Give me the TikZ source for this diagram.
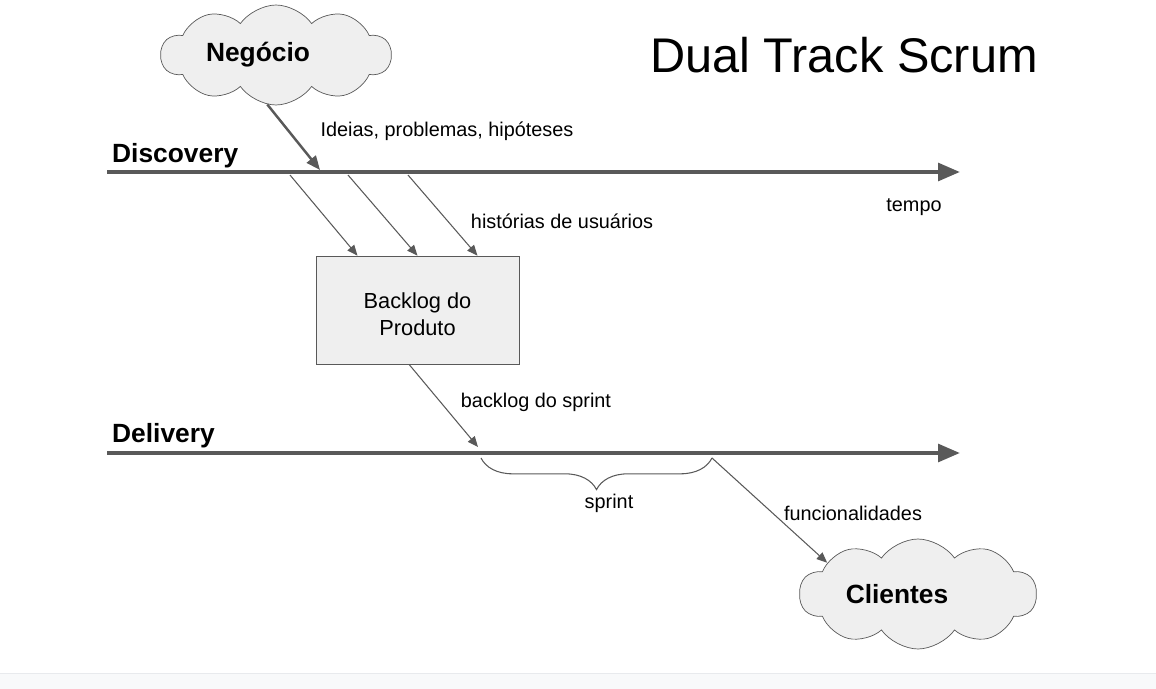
\documentclass[tikz,border=0pt]{standalone}
\usepackage{fontspec}
\setmainfont{Liberation Sans}
\usetikzlibrary{arrows.meta,calc,positioning,decorations.pathreplacing,shapes.symbols}
\definecolor{graa}{HTML}{595959}
\definecolor{lysgraa}{HTML}{EFEFEF}
\definecolor{bundfarve}{HTML}{F8F9FA}
\definecolor{kant}{HTML}{E8EAED}
\tikzset{
    >={Triangle[length=6pt,width=5pt]},
    sky/.style={
           cloud, cloud puffs=10, cloud puff arc=110,
           cloud ignores aspect,
           draw=graa, fill=lysgraa,
           minimum width=4.6cm, minimum height=2cm,
           font=\fontsize{15}{18}\selectfont\bfseries},
    boks/.style={
           rectangle,
           draw=graa, fill=lysgraa,
           minimum width=4.06cm, minimum height=2.16cm,
           align=center,
           font=\fontsize{12.4}{15.6}\selectfont},
    tidslinje/.style={
           -{Triangle[length=12.5pt,width=10pt]},
           draw=graa, line width=2.3pt},
    pil/.style={
           ->,
           draw=graa, line width=0.6pt},
    tykpil/.style={
           -{Triangle[length=8pt,width=6.5pt]},
           draw=graa, line width=1.4pt},
    etiket/.style={
           font=\fontsize{11.3}{13}\selectfont},
    spor/.style={
           anchor=west,
           font=\fontsize{15}{18}\selectfont\bfseries}
}

\begin{document}
\begin{tikzpicture}[x=0.02cm, y=-0.02cm, node distance=0.25cm, auto,]
        \useasboundingbox (0,0) rectangle (1156,689);
        \fill[bundfarve] (0,673) rectangle (1156,689);
        \draw[kant] (0,673) -- (1156,673);
        % spor
        \coordinate (d0) at (107,172);
        \coordinate (d1) at (960,172);
        \coordinate (l0) at (107,453);
        \coordinate (l1) at (960,453);
        \draw[tidslinje] (d0) -- (d1);
        \draw[tidslinje] (l0) -- (l1);
        \node[spor] (disc) at (106,156) {Discovery};
        \node[spor] (deli) at (106,436) {Delivery};
        \node[font=\fontsize{27.7}{33}\selectfont] (titel) at (844,55) {Dual Track Scrum};
        \node[etiket] (tempo) at (914,207) {tempo};
        % skyer og backlog
        \node[sky] (negocio) at (276,55) {Neg\'ocio\hspace*{0.72cm}};
        \node[sky, minimum width=4.74cm, minimum height=2.2cm] (klienter) at (918,594) {Clientes\hspace*{0.84cm}};
        \node[boks] (backlog) at (417.5,310) {\rule{0pt}{13.5pt}Backlog do\\Produto};
        \coordinate (i1) at (320,170);
        \draw[tykpil] (negocio.-100) -- (i1);
        \node[etiket] (ideias) at (447,131) {Ideias, problemas, hip\'oteses};
        \coordinate (h1) at (290,175);
        \coordinate (h2) at (348,175);
        \coordinate (h3) at (408,175);
        \draw[pil] (h1) -- ([xshift=-1.2cm]backlog.north);
        \draw[pil] (h2) -- (backlog.north);
        \draw[pil] (h3) -- ([xshift=1.2cm]backlog.north);
        \node[etiket] (hist) at (562,221) {hist\'orias de usu\'arios};
        % sprint
        \coordinate (b1) at (478,447);
        \draw[pil] ([xshift=-0.17cm]backlog.south) -- (b1);
        \node[etiket] (bsprint) at (536,402) {backlog do sprint};
        \coordinate (s0) at (481,458);
        \coordinate (s1) at (712,458);
        \draw[graa, line width=0.6pt, decorate, decoration={brace, mirror, amplitude=18pt}] (s0) -- (s1);
        \node[etiket] (sprint) at (609,503) {sprint};
        \draw[pil] (s1) -- (klienter.161);
        \node[etiket] (func) at (853,513) {funcionalidades};
    \end{tikzpicture}
\end{document}
